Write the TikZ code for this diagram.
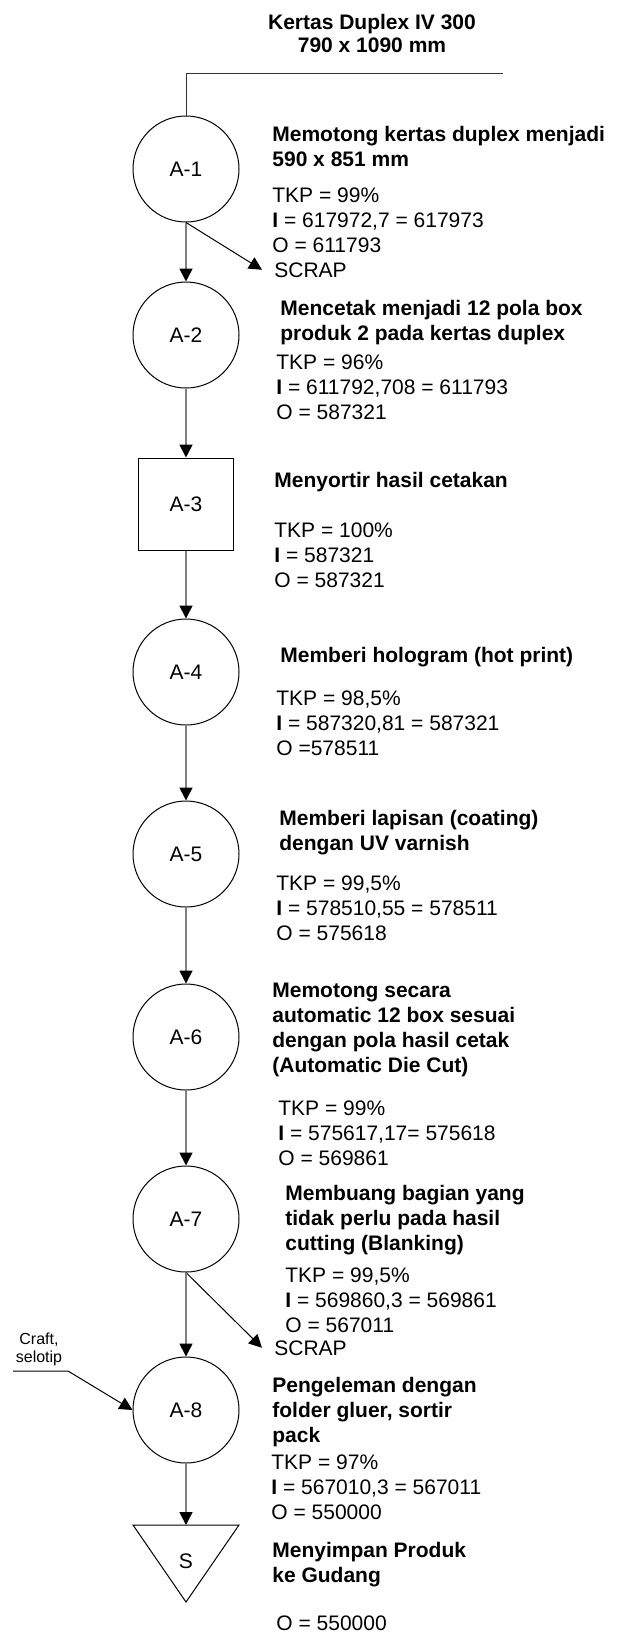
\documentclass[tikz,border=0pt]{standalone}
\usepackage{fontspec}
\setmainfont{Liberation Sans}
\usetikzlibrary{arrows.meta}
\definecolor{flow}{HTML}{808080}

\begin{document}
\begin{tikzpicture}[x=0.5pt,y=-0.5pt,
  font=\fontsize{10.5}{12.4}\selectfont,
  op/.style={draw,circle,minimum size=53pt,inner sep=0pt,line width=0.5pt},
  chk/.style={draw,rectangle,minimum width=47.5pt,minimum height=46pt,inner sep=0pt,line width=0.5pt},
  txt/.style={anchor=base west,align=left,inner sep=0pt},
  head/.style={txt,font=\fontsize{10.5}{12.4}\selectfont\bfseries},
  arr/.style={-{Triangle[length=6.5pt,width=6.5pt,color=black]},line width=0.8pt,draw=flow},
  waste/.style={-{Triangle[length=6.5pt,width=6.5pt]},line width=0.5pt,draw=black}]
  \useasboundingbox (0,0) rectangle (624,1635);

  % bahan masuk (base = baris terakhir)
  \node[anchor=base,align=center,font=\fontsize{10.5}{11.5}\selectfont\bfseries] (paper) at (372,52) {Kertas Duplex IV 300\\790 x 1090 mm};
  \coordinate (feed) at (503,73);

  % operasi
  \node[op] (a1) at (186,169) {A-1};
  \node[op] (a2) at (186,335) {A-2};
  \node[chk] (a3) at (186,504) {A-3};
  \node[op] (a4) at (186,672) {A-4};
  \node[op] (a5) at (186,854) {A-5};
  \node[op] (a6) at (186,1037) {A-6};
  \node[op] (a7) at (186,1219) {A-7};
  \node[op] (a8) at (186,1410) {A-8};
  \coordinate (store) at (186,1525);
  \draw[line width=0.5pt] (store) ++(-53,0) -- ++(106,0) -- (186,1602) -- cycle;
  \node (s) at (186,1561) {S};

  % keterangan
  \node[head] (h1) at (272,166) {Memotong kertas duplex menjadi\\590 x 851 mm};
  \node[txt] (d1) at (272,252) {TKP = 99\%\\\textbf{I} = 617972,7 = 617973\\O = 611793};
  \node[txt] (scrap1) at (274,277) {SCRAP};
  \node[head] (h2) at (280,340) {Mencetak menjadi 12 pola box\\produk 2 pada kertas duplex};
  \node[txt] (d2) at (276,419) {TKP = 96\%\\\textbf{I} = 611792,708 = 611793\\O = 587321};
  \node[head] (h3) at (274,487) {Menyortir hasil cetakan};
  \node[txt] (d3) at (274,587) {TKP = 100\%\\\textbf{I} = 587321\\O = 587321};
  \node[head] (h4) at (280,662) {Memberi hologram (hot print)};
  \node[txt] (d4) at (276,755) {TKP = 98,5\%\\\textbf{I} = 587320,81 = 587321\\O =578511};
  \node[head] (h5) at (279,850) {Memberi lapisan (coating)\\dengan UV varnish};
  \node[txt] (d5) at (276,940) {TKP = 99,5\%\\\textbf{I} = 578510,55 = 578511\\O = 575618};
  \node[head] (h6) at (272,1072) {Memotong secara\\automatic 12 box sesuai\\dengan pola hasil cetak\\(Automatic Die Cut)};
  \node[txt] (d6) at (278,1165) {TKP = 99\%\\\textbf{I} = 575617,17= 575618\\O = 569861};
  \node[head] (h7) at (285,1250) {Membuang bagian yang\\tidak perlu pada hasil\\cutting (Blanking)};
  \node[txt] (d7) at (285,1332) {TKP = 99,5\%\\\textbf{I} = 569860,3 = 569861\\O = 567011};
  \node[txt] (scrap2) at (274,1355) {SCRAP};
  \node[head] (h8) at (272,1442) {Pengeleman dengan\\folder gluer, sortir\\pack};
  \node[txt] (d8) at (271,1519) {TKP = 97\%\\\textbf{I} = 567010,3 = 567011\\O = 550000};
  \node[head] (h9) at (272,1582) {Menyimpan Produk\\ke Gudang};
  \node[txt] (d9) at (276,1630) {O = 550000};
  \node[anchor=base,align=center,font=\fontsize{8}{9}\selectfont] (craft) at (39,1362) {Craft,\\selotip};
  \coordinate (cin) at (13,1371);
  \coordinate (cbend) at (68,1371);

  \draw[line width=0.5pt,draw=black!80] (feed) -| (a1.north);
  \draw[arr] (a1) -- (a2);
  \draw[waste] (a1.south) -- ([xshift=-6pt]scrap1.west);
  \draw[arr] (a2) -- (a3);
  \draw[arr] (a3) -- (a4);
  \draw[arr] (a4) -- (a5);
  \draw[arr] (a5) -- (a6);
  \draw[arr] (a6) -- (a7);
  \draw[waste] (a7.south) -- ([xshift=-6pt]scrap2.west);
  \draw[arr] (a7) -- (a8);
  \draw[waste] (cin) -- (cbend) -- (a8.west);
  \draw[arr] (a8) -- (store);
\end{tikzpicture}
\end{document}
